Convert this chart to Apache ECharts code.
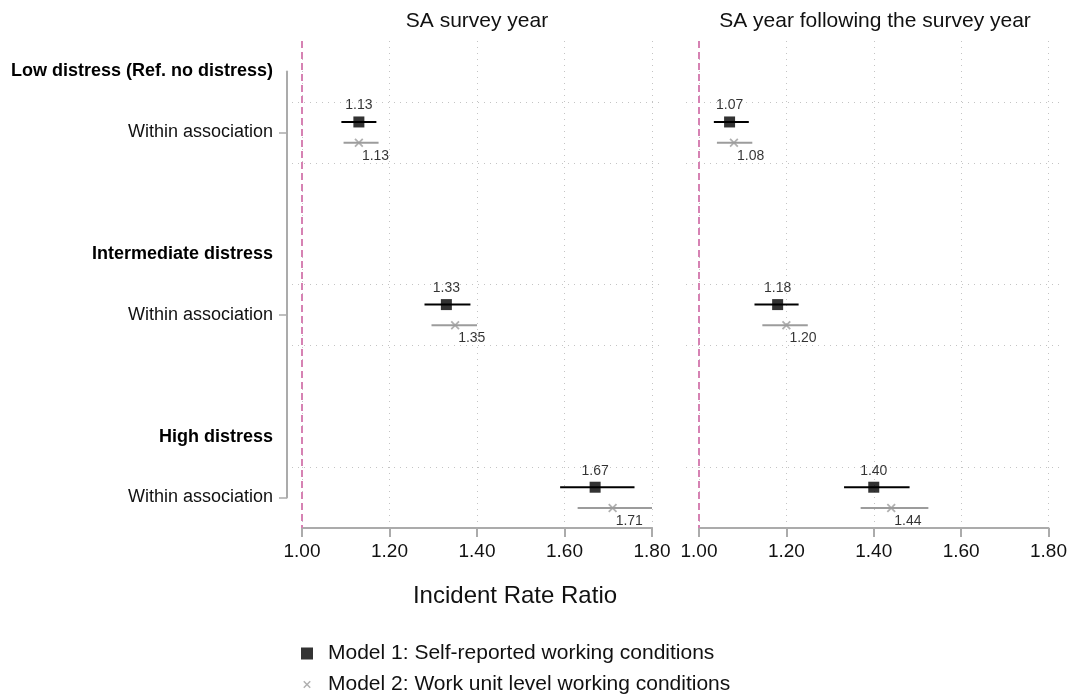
<!DOCTYPE html>
<html>
<head>
<meta charset="UTF-8">
<title>Incident Rate Ratio</title>
<style>
html, body { margin: 0; padding: 0; background: #fff; }
#main { width: 1070px; height: 695px; }
</style>
</head>
<body>
<div id="main"></div>
<script src="https://cdn.jsdelivr.net/npm/echarts@6/dist/echarts.min.js"></script>
<script>
// rows: 1 = first header ... 8 = last coefficient (y axis runs 0.5 - 8.5)
var groupNames = ['Low distress (Ref. no distress)', 'Intermediate distress', 'High distress'];
var groupRows = [1, 4, 7];
var coefRows = [2, 5, 8];
var coefName = 'Within association';
var gridRows = [1.5, 2.5, 4.5, 5.5, 7.5];

var panelTitles = ['SA survey year', 'SA year following the survey year'];
var modelNames = ['Model 1: Self-reported working conditions', 'Model 2: Work unit level working conditions'];

// SA survey year
var m1Left = [1.13, 1.33, 1.67];
var m1LeftLo = [1.09, 1.28, 1.59];
var m1LeftHi = [1.17, 1.385, 1.76];
var m2Left = [1.13, 1.35, 1.71];
var m2LeftLo = [1.095, 1.296, 1.63];
var m2LeftHi = [1.175, 1.40, 1.80];

// SA year following the survey year
var m1Right = [1.07, 1.18, 1.40];
var m1RightLo = [1.034, 1.127, 1.332];
var m1RightHi = [1.114, 1.228, 1.482];
var m2Right = [1.08, 1.20, 1.44];
var m2RightLo = [1.041, 1.145, 1.37];
var m2RightHi = [1.122, 1.249, 1.525];

var rowShift = 0.17;
var black = '#000000';
var grey = '#9c9c9c';
var axisGrey = '#ababab';
var xPath = 'path://M0,1.4L1.4,0L5,3.6L8.6,0L10,1.4L6.4,5L10,8.6L8.6,10L5,6.4L1.4,10L0,8.6L3.6,5Z';
var xPathLegend = 'path://M-3,-3M13,13M0,1.4L1.4,0L5,3.6L8.6,0L10,1.4L6.4,5L10,8.6L8.6,10L5,6.4L1.4,10L0,8.6L3.6,5Z';

function points(vals, shift) {
	var out = [];
	for (var i = 0; i < vals.length; i++) {
		out.push([vals[i], coefRows[i] + shift]);
	}
	return out;
}

function intervals(lo, hi, shift) {
	var out = [];
	for (var i = 0; i < lo.length; i++) {
		out.push([lo[i], hi[i], coefRows[i] + shift]);
	}
	return out;
}

function ciSeries(idx, data, color) {
	return {
		type: 'custom',
		xAxisIndex: idx,
		yAxisIndex: idx,
		silent: true,
		encode: { x: [0, 1], y: 2 },
		data: data,
		z: 3,
		renderItem: function(params, api) {
			var a = api.coord([api.value(0), api.value(2)]);
			var b = api.coord([api.value(1), api.value(2)]);
			return {
				type: 'line',
				shape: { x1: a[0], y1: a[1], x2: b[0], y2: b[1] },
				style: { stroke: color, lineWidth: 2 }
			};
		}
	};
}

function fmt(p) {
	return p.value[0].toFixed(2);
}

function m1Series(idx, vals) {
	return {
		name: modelNames[0],
		type: 'scatter',
		xAxisIndex: idx,
		yAxisIndex: idx,
		symbol: 'rect',
		symbolSize: 11,
		itemStyle: { color: black },
		z: 5,
		label: {
			show: true,
			position: 'top',
			distance: 4,
			formatter: fmt,
			fontFamily: 'Liberation Sans',
			fontSize: 14,
			color: black
		},
		data: points(vals, -rowShift)
	};
}

function m2Series(idx, vals) {
	return {
		name: modelNames[1],
		type: 'scatter',
		xAxisIndex: idx,
		yAxisIndex: idx,
		symbol: xPath,
		symbolSize: 9,
		itemStyle: { color: grey },
		z: 5,
		label: {
			show: true,
			position: [7.5, 10.5],
			align: 'left',
			verticalAlign: 'top',
			formatter: fmt,
			fontFamily: 'Liberation Sans',
			fontSize: 14,
			color: black
		},
		data: points(vals, rowShift)
	};
}

function refLine(idx) {
	// dashed reference line at IRR = 1
	return {
		type: 'scatter',
		xAxisIndex: idx,
		yAxisIndex: idx,
		data: [],
		silent: true,
		markLine: {
			silent: true,
			symbol: 'none',
			label: { show: false },
			lineStyle: { color: '#d682b3', type: [7, 4], width: 2 },
			data: [{ xAxis: 1 }]
		}
	};
}

function gridLines(idx) {
	return {
		type: 'scatter',
		xAxisIndex: idx,
		yAxisIndex: idx,
		data: [],
		silent: true,
		z: 1,
		markLine: {
			silent: true,
			symbol: 'none',
			label: { show: false },
			lineStyle: { color: '#c4c4c4', type: [1, 5], width: 1 },
			data: gridRows.map(function(r) { return { yAxis: r }; })
		}
	};
}

function panelX(idx) {
	return {
		type: 'value',
		gridIndex: idx,
		min: 1.0,
		max: 1.8,
		interval: 0.2,
		axisLine: { show: true, lineStyle: { color: axisGrey, width: 2 } },
		axisTick: { show: true, length: 9, lineStyle: { color: axisGrey, width: 2 } },
		axisLabel: {
			margin: 14,
			fontFamily: 'Liberation Sans',
			fontSize: 19,
			color: '#111',
			showMinLabel: true,
			showMaxLabel: true,
			formatter: function(v) { return v.toFixed(2); }
		},
		splitLine: { show: true, lineStyle: { color: '#c4c4c4', type: [1, 5], width: 1 } }
	};
}

function plainY(idx) {
	return {
		type: 'value',
		gridIndex: idx,
		min: 0.5,
		max: 8.5,
		inverse: true,
		show: false
	};
}

function hiddenX(idx) {
	return { type: 'value', gridIndex: idx, min: 0, max: 1, show: false };
}

function legendRow(i, icon, top) {
	return {
		left: 301,
		top: top,
		itemWidth: 12,
		itemHeight: 12,
		selectedMode: false,
		padding: 0,
		textStyle: { fontFamily: 'Liberation Sans', fontSize: 21, color: '#111', padding: [0, 0, 0, 10] },
		data: [{ name: modelNames[i], icon: icon }]
	};
}

var labelValues = groupRows.concat(coefRows).sort(function(a, b) { return a - b; });
var titleFont = { fontFamily: 'Liberation Sans', fontSize: 21, fontWeight: 'normal', color: '#111' };

var option = {
	animation: false,
	backgroundColor: '#fff',
	textStyle: { fontFamily: 'Liberation Sans' },
	title: [
		{ text: panelTitles[0], left: 477, top: 11, textAlign: 'center', padding: 0, textStyle: titleFont },
		{ text: panelTitles[1], left: 875, top: 11, textAlign: 'center', padding: 0, textStyle: titleFont },
		{ text: 'Incident Rate Ratio', left: 515, top: 584, textAlign: 'center', padding: 0,
			textStyle: { fontFamily: 'Liberation Sans', fontSize: 24, fontWeight: 'normal', color: '#111' } }
	],
	legend: [
		legendRow(0, 'rect', 643),
		legendRow(1, xPathLegend, 674)
	],
	grid: [
		{ left: 302, width: 350, top: 41, bottom: 167 },
		{ left: 699, width: 351, top: 41, bottom: 167 },
		{ left: 292, width: 371, top: 41, bottom: 167 },
		{ left: 686, width: 375, top: 41, bottom: 167 },
		{ left: 287, width: 1, top: 71.4, height: 426 }
	],
	xAxis: [panelX(0), panelX(1), hiddenX(2), hiddenX(3), hiddenX(4)],
	yAxis: [
		plainY(0), plainY(1), plainY(2), plainY(3),
		{
			type: 'value',
			gridIndex: 4,
			min: 1,
			max: 8,
			inverse: true,
			axisLine: { show: true, lineStyle: { color: axisGrey, width: 2 } },
			axisTick: { show: true, length: 8, customValues: coefRows, lineStyle: { color: axisGrey, width: 1.5 } },
			splitLine: { show: false },
			axisLabel: {
				margin: 14,
				customValues: labelValues,
				fontFamily: 'Liberation Sans',
				fontSize: 18,
				color: '#111',
				formatter: function(v) {
					var g = groupRows.indexOf(v);
					if (g >= 0) return '{b|' + groupNames[g] + '}';
					return coefName;
				},
				rich: {
					b: { fontFamily: 'Liberation Sans', fontSize: 18, fontWeight: 'bold', color: '#000' }
				}
			}
		}
	],
	series: [
		gridLines(2),
		gridLines(3),
		refLine(0),
		refLine(1),
		ciSeries(0, intervals(m1LeftLo, m1LeftHi, -rowShift), black),
		ciSeries(0, intervals(m2LeftLo, m2LeftHi, rowShift), grey),
		ciSeries(1, intervals(m1RightLo, m1RightHi, -rowShift), black),
		ciSeries(1, intervals(m2RightLo, m2RightHi, rowShift), grey),
		m1Series(0, m1Left),
		m2Series(0, m2Left),
		m1Series(1, m1Right),
		m2Series(1, m2Right)
	]
};

var myChart = echarts.init(document.getElementById('main'));
myChart.setOption(option);
</script>
</body>
</html>
